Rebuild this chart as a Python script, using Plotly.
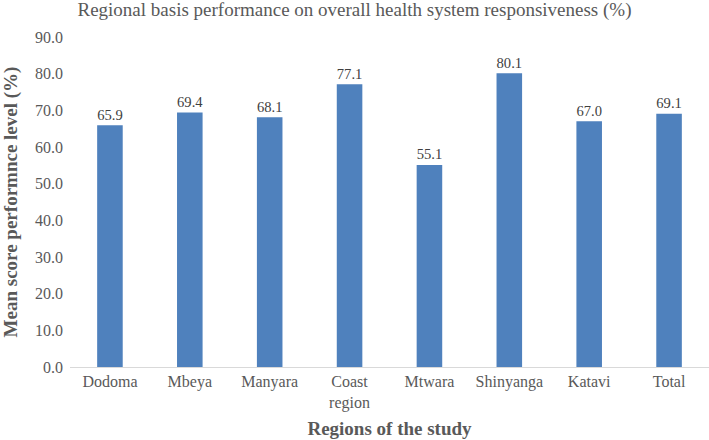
import plotly.graph_objects as go

regions = ["Dodoma", "Mbeya", "Manyara", "Coast<br>region", "Mtwara", "Shinyanga", "Katavi", "Total"]
scores = [65.9, 69.4, 68.1, 77.1, 55.1, 80.1, 67.0, 69.1]
y_ticks = [0, 10, 20, 30, 40, 50, 60, 70, 80, 90]

font = "Liberation Serif, Times New Roman, serif"

fig = go.Figure(go.Bar(
    x=regions, y=scores,
    marker=dict(color="#4f81bd", line=dict(width=0)),
    text=[f"{v:.1f}" for v in scores], textposition="outside",
    textfont=dict(family=font, size=16, color="#404040"),
    cliponaxis=False,
))

fig.update_layout(
    width=709, height=440,
    margin=dict(l=70, r=0, t=37, b=73),
    paper_bgcolor="white", plot_bgcolor="white",
    bargap=0.68,
    showlegend=False,
    title=dict(text="Regional basis performance on overall health system responsiveness (%)",
               x=0.5, xanchor="center", y=0.995, yanchor="top",
               font=dict(family=font, size=19, color="#595959")),
    xaxis=dict(showline=True, linecolor="#d9d9d9", linewidth=1, ticks="",
               tickfont=dict(family=font, size=16, color="#595959"),
               title=dict(text="<b>Regions of the study</b>", standoff=10,
                          font=dict(family=font, size=19, color="#595959"))),
    yaxis=dict(range=[0, 90], tickvals=y_ticks, tickformat=".1f", showgrid=False,
               zeroline=False, showline=False, ticks="", ticklabelstandoff=6,
               tickfont=dict(family=font, size=16, color="#595959"),
               title=dict(text="<b>Mean score performnce level (%)</b>", standoff=16,
                          font=dict(family=font, size=19, color="#595959"))),
)

fig.write_html("out.html", config={"displayModeBar": False},
               post_script="document.body.style.margin='0';")
